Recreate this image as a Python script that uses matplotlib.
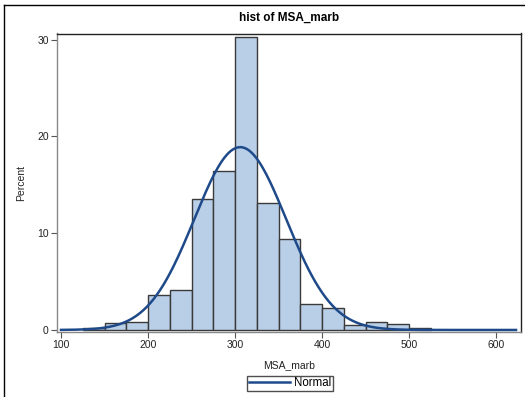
import numpy as np
import matplotlib
matplotlib.use("Agg")
import matplotlib.pyplot as plt
from matplotlib.lines import Line2D

plt.rcParams['font.family'] = ['Liberation Sans', 'DejaVu Sans']

# histogram of MSA_marb, bins of width 25
bin_left = [125, 150, 175, 200, 225, 250, 275, 300, 325, 350, 375, 400, 425, 450, 475, 500]
bin_width = 25
percent = [0.25, 0.7, 0.86, 3.6, 4.1, 13.5, 16.4, 30.3, 13.1, 9.45, 2.7, 2.3, 0.55, 0.85, 0.6, 0.25]

# fitted normal parameters
mu = 306.0
sigma = 52.8

bar_fill = '#B9CFE7'
bar_edge = '#3a3a3a'
curve_color = '#1F4A8A'

fig = plt.figure(figsize=(5.25, 3.97), dpi=100)
ax = fig.add_axes([57 / 525, 1 - 332 / 397, 464 / 525, (332 - 33.5) / 397])

ax.bar(bin_left, percent, width=bin_width, align='edge', color=bar_fill,
       edgecolor=bar_edge, linewidth=1.0, zorder=2)

xs = np.linspace(100, 623, 400)
ys = 100 * bin_width * np.exp(-0.5 * ((xs - mu) / sigma) ** 2) / (sigma * np.sqrt(2 * np.pi))
ax.plot(xs, ys, color=curve_color, linewidth=1.8, zorder=3, label='Normal')

ax.set_xlim(95.4, 628.7)
ax.set_ylim(-0.21, 30.63)
ax.set_xticks([100, 200, 300, 400, 500, 600])
ax.set_yticks([0, 10, 20, 30])
ax.tick_params(axis='both', labelsize=7.5, length=4, width=0.8, color='#555555',
               labelcolor='#222222', pad=2)

for side in ['top', 'right']:
    ax.spines[side].set_color('#222222')
for side in ['left', 'bottom']:
    ax.spines[side].set_color('#888888')
for s in ax.spines.values():
    s.set_linewidth(1.0)

ax.set_title('hist of MSA_marb', fontsize=8.5, fontweight='bold', pad=9)
ax.set_xlabel('MSA_marb', fontsize=7.5, color='#222222', labelpad=7)
ax.set_ylabel('Percent', fontsize=7.5, color='#222222', labelpad=8)

fig.legend(handles=[Line2D([0], [0], color=curve_color, linewidth=1.8)], labels=['Normal'],
           loc='center', bbox_to_anchor=(290 / 525, 1 - 383.5 / 397), fontsize=8.3,
           frameon=True, fancybox=False, edgecolor='#222222', handlelength=3.6,
           borderpad=0.15, handletextpad=0.3, borderaxespad=0)

# outer frame lines
fig.add_artist(Line2D([4 / 525, 4 / 525], [0, 1 - 5 / 397], color='black', linewidth=1.0,
                      transform=fig.transFigure))
fig.add_artist(Line2D([4 / 525, 1], [1 - 5 / 397, 1 - 5 / 397], color='black', linewidth=1.0,
                      transform=fig.transFigure))

fig.savefig('out.png', dpi=100)
